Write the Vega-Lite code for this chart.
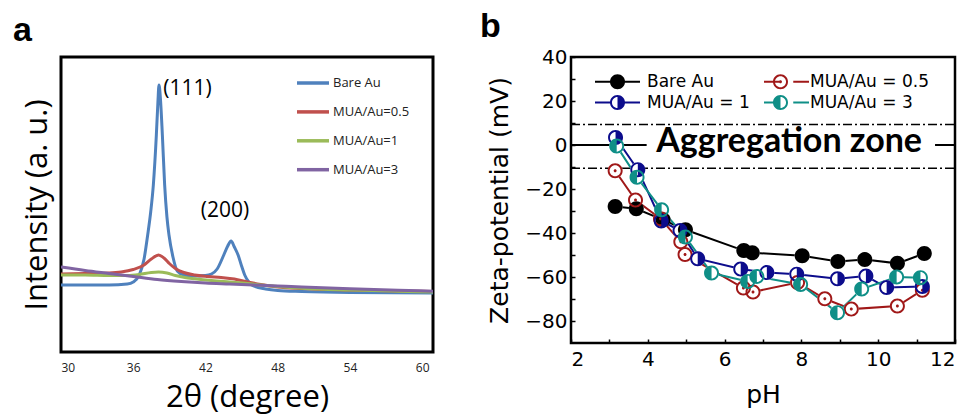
{
"$schema": "https://vega.github.io/schema/vega-lite/v6.json",
"background": "white",
"padding": {"left": 11, "top": 8, "right": 0, "bottom": 0},
"spacing": 43,
"resolve": {"scale": {"color": "independent", "shape": "independent", "fill": "independent", "stroke": "independent"}, "legend": {"color": "independent", "shape": "independent", "fill": "independent", "stroke": "independent"}},
"datasets": {
"xrd": [
{"s":"Bare Au","t":30,"i":67},{"s":"Bare Au","t":32,"i":67},{"s":"Bare Au","t":34,"i":67},{"s":"Bare Au","t":35.5,"i":68},{"s":"Bare Au","t":36,"i":70},{"s":"Bare Au","t":36.5,"i":77},{"s":"Bare Au","t":36.9,"i":93},{"s":"Bare Au","t":37.2,"i":117},{"s":"Bare Au","t":37.45,"i":140},{"s":"Bare Au","t":37.67,"i":167},{"s":"Bare Au","t":37.92,"i":217},{"s":"Bare Au","t":38.05,"i":250},{"s":"Bare Au","t":38.14,"i":267},{"s":"Bare Au","t":38.25,"i":255},{"s":"Bare Au","t":38.42,"i":217},{"s":"Bare Au","t":38.61,"i":167},{"s":"Bare Au","t":38.8,"i":135},{"s":"Bare Au","t":38.97,"i":117},{"s":"Bare Au","t":39.3,"i":95},{"s":"Bare Au","t":39.66,"i":81},{"s":"Bare Au","t":40.2,"i":77},{"s":"Bare Au","t":41,"i":76},{"s":"Bare Au","t":42,"i":76.5},{"s":"Bare Au","t":42.5,"i":78},{"s":"Bare Au","t":42.97,"i":83},{"s":"Bare Au","t":43.52,"i":97},{"s":"Bare Au","t":43.85,"i":106},{"s":"Bare Au","t":44.13,"i":111},{"s":"Bare Au","t":44.4,"i":105},{"s":"Bare Au","t":44.71,"i":97},{"s":"Bare Au","t":45,"i":86},{"s":"Bare Au","t":45.26,"i":77},{"s":"Bare Au","t":45.6,"i":70},{"s":"Bare Au","t":46,"i":66},{"s":"Bare Au","t":47,"i":63},{"s":"Bare Au","t":48,"i":61.5},{"s":"Bare Au","t":50,"i":60.5},{"s":"Bare Au","t":54,"i":59.5},{"s":"Bare Au","t":60.9,"i":59},
{"s":"MUA/Au=0.5","t":30,"i":78},{"s":"MUA/Au=0.5","t":32,"i":78.5},{"s":"MUA/Au=0.5","t":34,"i":79},{"s":"MUA/Au=0.5","t":35,"i":80},{"s":"MUA/Au=0.5","t":36,"i":82.5},{"s":"MUA/Au=0.5","t":36.9,"i":87},{"s":"MUA/Au=0.5","t":37.5,"i":93},{"s":"MUA/Au=0.5","t":38.1,"i":97},{"s":"MUA/Au=0.5","t":38.6,"i":93.5},{"s":"MUA/Au=0.5","t":39,"i":88.5},{"s":"MUA/Au=0.5","t":39.5,"i":83.5},{"s":"MUA/Au=0.5","t":40.2,"i":79.5},{"s":"MUA/Au=0.5","t":41.1,"i":77},{"s":"MUA/Au=0.5","t":42.2,"i":75.5},{"s":"MUA/Au=0.5","t":43.3,"i":74.5},{"s":"MUA/Au=0.5","t":44.4,"i":73},{"s":"MUA/Au=0.5","t":45.5,"i":70},{"s":"MUA/Au=0.5","t":46.6,"i":67.5},{"s":"MUA/Au=0.5","t":48,"i":65},{"s":"MUA/Au=0.5","t":50,"i":63.5},{"s":"MUA/Au=0.5","t":54,"i":62},{"s":"MUA/Au=0.5","t":58,"i":61},{"s":"MUA/Au=0.5","t":60.9,"i":60.5},
{"s":"MUA/Au=1","t":30,"i":77},{"s":"MUA/Au=1","t":32,"i":77},{"s":"MUA/Au=1","t":34,"i":76.5},{"s":"MUA/Au=1","t":35.5,"i":76.5},{"s":"MUA/Au=1","t":36.5,"i":77.5},{"s":"MUA/Au=1","t":37.5,"i":79.5},{"s":"MUA/Au=1","t":38.1,"i":80},{"s":"MUA/Au=1","t":38.8,"i":79},{"s":"MUA/Au=1","t":39.5,"i":76.5},{"s":"MUA/Au=1","t":40.3,"i":74.5},{"s":"MUA/Au=1","t":41.1,"i":73.3},{"s":"MUA/Au=1","t":42.5,"i":71.5},{"s":"MUA/Au=1","t":44,"i":70},{"s":"MUA/Au=1","t":45.5,"i":68.5},{"s":"MUA/Au=1","t":46.6,"i":67},{"s":"MUA/Au=1","t":48,"i":65.5},{"s":"MUA/Au=1","t":50,"i":63.8},{"s":"MUA/Au=1","t":54,"i":62},{"s":"MUA/Au=1","t":58,"i":60.8},{"s":"MUA/Au=1","t":60.9,"i":60},
{"s":"MUA/Au=3","t":30,"i":85},{"s":"MUA/Au=3","t":32,"i":81.5},{"s":"MUA/Au=3","t":34,"i":78.5},{"s":"MUA/Au=3","t":36,"i":75.5},{"s":"MUA/Au=3","t":38,"i":72.5},{"s":"MUA/Au=3","t":40,"i":70.5},{"s":"MUA/Au=3","t":42,"i":69},{"s":"MUA/Au=3","t":44,"i":68},{"s":"MUA/Au=3","t":46,"i":67},{"s":"MUA/Au=3","t":48,"i":66},{"s":"MUA/Au=3","t":50,"i":65},{"s":"MUA/Au=3","t":54,"i":63.3},{"s":"MUA/Au=3","t":58,"i":61.8},{"s":"MUA/Au=3","t":60.9,"i":60.8}
],
"xrdLabels": [
{"t":40.5,"i":263,"label":"(111)"},
{"t":43.62,"i":141,"label":"(200)"}
],
"zeta": [
{"s":"Bare Au","ph":3.15,"z":-28},{"s":"Bare Au","ph":3.7,"z":-29},{"s":"Bare Au","ph":4.4,"z":-34},{"s":"Bare Au","ph":4.98,"z":-38.5},{"s":"Bare Au","ph":6.5,"z":-48},{"s":"Bare Au","ph":6.72,"z":-49},{"s":"Bare Au","ph":8.02,"z":-50.3},{"s":"Bare Au","ph":8.95,"z":-53},{"s":"Bare Au","ph":9.65,"z":-52},{"s":"Bare Au","ph":10.5,"z":-53.8},{"s":"Bare Au","ph":11.2,"z":-49.3},
{"s":"MUA/Au = 0.5","ph":3.15,"z":-11.7},{"s":"MUA/Au = 0.5","ph":3.68,"z":-25},{"s":"MUA/Au = 0.5","ph":4.33,"z":-33.5},{"s":"MUA/Au = 0.5","ph":4.86,"z":-44},{"s":"MUA/Au = 0.5","ph":4.97,"z":-49.8},{"s":"MUA/Au = 0.5","ph":6.49,"z":-65},{"s":"MUA/Au = 0.5","ph":6.74,"z":-66.8},{"s":"MUA/Au = 0.5","ph":7.9,"z":-62.5},{"s":"MUA/Au = 0.5","ph":8.61,"z":-69.9},{"s":"MUA/Au = 0.5","ph":9.3,"z":-74.6},{"s":"MUA/Au = 0.5","ph":10.5,"z":-73.2},{"s":"MUA/Au = 0.5","ph":11.15,"z":-66},
{"s":"MUA/Au = 1","ph":3.16,"z":3.4},{"s":"MUA/Au = 1","ph":3.74,"z":-11.2},{"s":"MUA/Au = 1","ph":4.35,"z":-34.5},{"s":"MUA/Au = 1","ph":4.84,"z":-38.9},{"s":"MUA/Au = 1","ph":5.3,"z":-51.7},{"s":"MUA/Au = 1","ph":6.42,"z":-56.4},{"s":"MUA/Au = 1","ph":7.1,"z":-58},{"s":"MUA/Au = 1","ph":7.88,"z":-58.7},{"s":"MUA/Au = 1","ph":8.94,"z":-60.8},{"s":"MUA/Au = 1","ph":9.68,"z":-59.6},{"s":"MUA/Au = 1","ph":10.22,"z":-64.8},{"s":"MUA/Au = 1","ph":11.15,"z":-64.3},
{"s":"MUA/Au = 3","ph":3.19,"z":-0.5},{"s":"MUA/Au = 3","ph":3.72,"z":-14.7},{"s":"MUA/Au = 3","ph":4.36,"z":-29.4},{"s":"MUA/Au = 3","ph":4.98,"z":-41.8},{"s":"MUA/Au = 3","ph":5.66,"z":-58.2},{"s":"MUA/Au = 3","ph":6.6,"z":-62},{"s":"MUA/Au = 3","ph":6.84,"z":-59.8},{"s":"MUA/Au = 3","ph":7.98,"z":-63.4},{"s":"MUA/Au = 3","ph":8.94,"z":-76.2},{"s":"MUA/Au = 3","ph":9.57,"z":-65.5},{"s":"MUA/Au = 3","ph":10.48,"z":-60},{"s":"MUA/Au = 3","ph":11.1,"z":-60.3}
],
"zones": [{"ph":2,"ph2":12,"z":9.3},{"ph":2,"ph2":12,"z":-10.6}],
"zeroline": [{"ph":2,"ph2":3.97,"z":0},{"ph":11.48,"ph2":12,"z":0}],
"zonelabel": [{"ph":7.68,"z":-3.1,"label":"Aggregation zone"}]
},
"hconcat": [
{
"width": 372, "height": 295,
"view": {"stroke": "black", "strokeWidth": 3},
"title": {"text": "a", "anchor": "start", "frame": "group", "dx": -48, "offset": -18, "baseline": "alphabetic", "font": "Liberation Sans", "fontSize": 34, "fontWeight": "bold", "color": "black"},
"encoding": {
"x": {"field": "t", "type": "quantitative", "scale": {"domain": [30, 60.9], "nice": false, "zero": false}, "axis": {"values": [30,36,42,48,54,60], "title": "2θ (degree)", "grid": false, "ticks": false, "domain": false, "labelPadding": 10, "labelFont": "Open Sans", "labelFontSize": 12, "labelColor": "#222222", "titleFont": "Open Sans", "titleFontSize": 31, "titleFontWeight": "normal", "titlePadding": 9, "titleColor": "black"}},
"y": {"field": "i", "type": "quantitative", "scale": {"domain": [0, 295], "nice": false}, "axis": {"title": "Intensity (a. u.)", "grid": false, "labels": false, "ticks": false, "domain": false, "titleFont": "Open Sans", "titleFontSize": 31, "titleFontWeight": "normal", "titlePadding": 8, "titleColor": "black"}}
},
"layer": [
{"data": {"name": "xrd"}, "mark": {"type": "line", "strokeWidth": 3, "clip": true, "interpolate": "monotone"},
"encoding": {"color": {"field": "s", "type": "nominal", "scale": {"domain": ["Bare Au","MUA/Au=0.5","MUA/Au=1","MUA/Au=3"], "range": ["#4F81BD","#C0504D","#9BBB59","#8064A2"]},
"legend": {"title": null, "orient": "none", "legendX": 234, "legendY": 8, "symbolType": "stroke", "symbolSize": 1024, "symbolStrokeWidth": 3.5, "labelFont": "Open Sans", "labelFontSize": 13, "labelColor": "#222222", "rowPadding": 3.9, "labelOffset": 2, "padding": 0}}}},
{"data": {"name": "xrdLabels"}, "mark": {"type": "text", "font": "Open Sans", "fontSize": 21, "baseline": "middle", "align": "center", "color": "black"},
"encoding": {"text": {"field": "label"}}}
]
},
{
"width": 384, "height": 286,
"view": {"stroke": "black", "strokeWidth": 2.5},
"title": {"text": "b", "anchor": "start", "frame": "group", "dx": -91, "offset": -24, "baseline": "alphabetic", "font": "Liberation Sans", "fontSize": 34, "fontWeight": "bold", "color": "black"},
"encoding": {
"x": {"field": "ph", "type": "quantitative", "scale": {"domain": [2, 12], "nice": false, "zero": false}, "axis": {"values": [2,3,4,5,6,7,8,9,10,11,12], "labelExpr": "datum.value % 2 === 0 ? datum.label : ''", "title": "pH", "grid": false, "domain": false, "tickSize": -4, "tickColor": "black", "tickWidth": 1.5, "labelPadding": 10, "labelFont": "DejaVu Sans", "labelFontSize": 20, "labelColor": "black", "titleFont": "DejaVu Sans", "titleFontSize": 25, "titleFontWeight": "normal", "titlePadding": 13, "titleColor": "black"}},
"y": {"field": "z", "type": "quantitative", "scale": {"domain": [-90, 40], "nice": false, "zero": false}, "axis": {"values": [-80,-70,-60,-50,-40,-30,-20,-10,0,10,20,30,40], "labelExpr": "datum.value % 20 === 0 ? datum.label : ''", "title": "Zeta-potential (mV)", "grid": false, "domain": false, "tickSize": -4, "tickColor": "black", "tickWidth": 1.5, "labelPadding": 8, "labelFont": "DejaVu Sans", "labelFontSize": 20, "labelColor": "black", "titleFont": "DejaVu Sans", "titleFontSize": 25, "titleFontWeight": "normal", "titlePadding": 12, "titleColor": "black"}}
},
"layer": [
{"data": {"name": "zones"}, "mark": {"type": "rule", "color": "black", "strokeWidth": 1.5, "strokeDash": [9,3,2,3]}, "encoding": {"x2": {"field": "ph2"}}},
{"data": {"name": "zeroline"}, "mark": {"type": "rule", "color": "black", "strokeWidth": 2}, "encoding": {"x2": {"field": "ph2"}}},
{"data": {"name": "zonelabel"}, "mark": {"type": "text", "font": "Lato", "fontWeight": "bold", "fontSize": 34, "align": "center", "baseline": "alphabetic", "color": "black"}, "encoding": {"text": {"field": "label"}}},
{"data": {"name": "zeta"}, "mark": {"type": "line", "strokeWidth": 2},
"encoding": {"stroke": {"field": "s", "type": "nominal", "scale": {"range": ["#000000","#A01818","#0C0C8C","#0F8F87"]},
"legend": {"title": null, "orient": "none", "legendX": 38, "legendY": 16, "columns": 2, "direction": "horizontal", "columnPadding": 113, "rowPadding": 3, "symbolSize": 225, "symbolType": "M-3,0L-0.9,0M0.9,0L3,0", "symbolStrokeWidth": 2, "labelExpr": "''", "labelOffset": 21, "labelFontSize": 17, "padding": 0}}}},
{"data": {"name": "zeta"}, "mark": {"type": "point", "filled": true, "fill": "white", "shape": "circle", "size": 225, "opacity": 1, "strokeWidth": 0}},
{"data": {"name": "zeta"}, "mark": {"type": "point", "filled": true, "size": 225, "opacity": 1, "strokeWidth": 0},
"encoding": {"fill": {"field": "s", "type": "nominal", "scale": {"domain": ["Bare Au","MUA/Au = 0.5","MUA/Au = 1","MUA/Au = 3"], "range": ["#000000","#A01818","#0C0C8C","#0F8F87"]},
"legend": {"title": null, "orient": "none", "legendX": 38, "legendY": 16, "columns": 2, "direction": "horizontal", "columnPadding": 22, "rowPadding": 3, "symbolSize": 225, "labelOffset": 21, "labelFont": "DejaVu Sans", "labelFontSize": 17, "labelColor": "black", "padding": 0, "symbolStrokeWidth": 0}},
"shape": {"field": "s", "type": "nominal", "scale": {"domain": ["Bare Au","MUA/Au = 0.5","MUA/Au = 1","MUA/Au = 3"], "range": ["M1,0A1,1 0 1,1 -1,0A1,1 0 1,1 1,0Z", "M1,0A1,1 0 1,1 -1,0A1,1 0 1,1 1,0Z M0.74,0A0.74,0.74 0 1,0 -0.74,0A0.74,0.74 0 1,0 0.74,0Z M0.2,0A0.2,0.2 0 1,1 -0.2,0A0.2,0.2 0 1,1 0.2,0Z", "M1,0A1,1 0 1,1 -1,0A1,1 0 1,1 1,0Z M0,-0.74A0.74,0.74 0 0,0 0,0.74Z", "M1,0A1,1 0 1,1 -1,0A1,1 0 1,1 1,0Z M0,0.74A0.74,0.74 0 0,0 0,-0.74Z"]},
"legend": {"title": null, "orient": "none", "legendX": 38, "legendY": 16, "columns": 2, "direction": "horizontal", "columnPadding": 22, "rowPadding": 3, "symbolSize": 225, "labelOffset": 21, "labelFont": "DejaVu Sans", "labelFontSize": 17, "labelColor": "black", "padding": 0, "symbolStrokeWidth": 0}}}}
]
}
]
}
